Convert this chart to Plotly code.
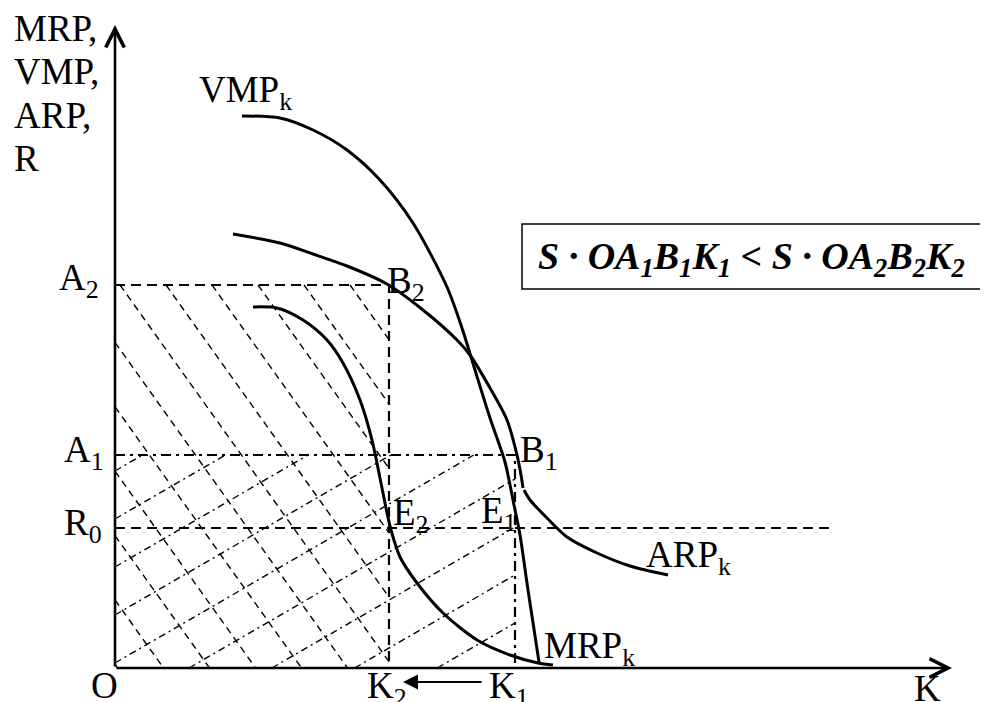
import plotly.graph_objects as go

# key levels on the diagram (origin at O)
K2 = 27.4
K1 = 40.0
A2 = 38.3
A1 = 21.3
R0 = 14.0
R0_END = 72.0
X_END = 83.7
Y_END = 64.3

# curves
vmp_x = [12.7, 16.5, 19.8, 23.2, 26.5, 29.8, 33.2, 34.7, 36.0, 37.5, 39.0, 39.9, 40.5, 41.3, 42.4]
vmp_y = [55.2, 55.0, 53.8, 51.8, 48.8, 44.5, 38.1, 34.0, 29.8, 25.0, 20.6, 16.3, 13.3, 7.8, 0.6]

upper_x = [11.8, 16.5, 19.8, 23.2, 27.2, 30.8, 34.2, 35.5, 37.5, 39.2, 40.2, 40.6, 40.8]
upper_y = [43.4, 42.5, 41.4, 40.2, 38.4, 35.8, 32.8, 31.3, 28.0, 24.8, 21.3, 19.3, 18.0]

arp_x = [40.9, 41.5, 43.2, 45.2, 48.2, 51.5, 55.3]
arp_y = [17.8, 16.8, 15.0, 13.1, 11.5, 10.2, 9.3]

mrp_x = [13.8, 16.2, 18.8, 21.2, 22.8, 24.5, 25.7, 26.5, 27.1, 27.6, 28.5, 30.2, 32.8, 36.2, 39.5, 42.3, 43.8]
mrp_y = [36.1, 36.0, 34.8, 32.8, 30.5, 26.8, 22.8, 19.0, 16.0, 13.8, 11.1, 8.5, 5.5, 2.8, 1.3, 0.5, 0.3]


def clip_line(m, c, w, h):
    # part of y = m*x + c inside [0,w] x [0,h]
    pts = []
    for x in (0, w):
        y = m * x + c
        if 0 <= y <= h:
            pts.append((x, y))
    for y in (0, h):
        x = (y - c) / m
        if 0 <= x <= w:
            pts.append((x, y))
    pts = sorted(set(pts))
    if len(pts) < 2:
        return None
    return pts[0], pts[-1]


def hatch(m, c0, step, w, h):
    xs, ys = [], []
    for k in range(-30, 30):
        seg = clip_line(m, c0 + k * step, w, h)
        if seg is None:
            continue
        (x0, y0), (x1, y1) = seg
        xs += [x0, x1, None]
        ys += [y0, y1, None]
    return xs, ys


fig = go.Figure()

# hatching of OA2B2K2 (dashed) and OA1B1K1 (dash-dot)
hx, hy = hatch(-1.4, A2 + 1.4 * 0.5, 1.4 * 4.6, K2, A2)
fig.add_trace(go.Scatter(x=hx, y=hy, mode="lines",
                         line=dict(color="black", width=1.4, dash="7px,5px")))
hx, hy = hatch(0.58, 5.3, 4.8, K1, A1)
fig.add_trace(go.Scatter(x=hx, y=hy, mode="lines",
                         line=dict(color="black", width=1.4, dash="7px,4px,2px,4px")))

# guide lines
dashed = dict(color="black", width=2.2, dash="10px,6px")
dashdot = dict(color="black", width=2.2, dash="10px,5px,3px,5px")
fig.add_trace(go.Scatter(x=[0, K2, K2], y=[A2, A2, 0], mode="lines", line=dashed))
fig.add_trace(go.Scatter(x=[0, R0_END], y=[R0, R0], mode="lines", line=dashed))
fig.add_trace(go.Scatter(x=[0, K1, K1], y=[A1, A1, 0], mode="lines", line=dashdot))

# curves
solid = dict(color="black", width=3, shape="spline", smoothing=0.8)
for cx, cy in [(vmp_x, vmp_y), (upper_x, upper_y), (arp_x, arp_y), (mrp_x, mrp_y)]:
    fig.add_trace(go.Scatter(x=cx, y=cy, mode="lines", line=solid))

# axes with open arrow heads
for tip in [(0, Y_END), (X_END, 0)]:
    fig.add_annotation(x=tip[0], y=tip[1], ax=0, ay=0, xref="x", yref="y",
                       axref="x", ayref="y", text="", showarrow=True,
                       arrowhead=5, arrowwidth=2.6, arrowsize=1.4, arrowcolor="black")

# K1 -> K2 shift
fig.add_annotation(x=K2 + 1.4, y=-1.4, ax=K1 - 3.2, ay=-1.4, xref="x", yref="y",
                   axref="x", ayref="y", text="", showarrow=True,
                   arrowhead=2, arrowwidth=2, arrowsize=1.5, arrowcolor="black")

serif = "Liberation Serif, Times New Roman, serif"
font = dict(family=serif, size=37, color="black")
labels = [
    ("MRP,", -10.3, 63.95),
    ("VMP,", -10.3, 59.65),
    ("ARP,", -10.3, 55.25),
    ("R", -10.3, 50.95),
    ("VMP<sub>k</sub>", 8.2, 57.6),
    ("B<sub>2</sub>", K2 - 0.4, A2 + 0.2),
    ("B<sub>1</sub>", K1 + 0.3, A1 + 0.3),
    ("E<sub>2</sub>", K2 + 0.2, R0 + 1.3),
    ("E<sub>1</sub>", K1 - 3.6, R0 + 1.5),
    ("ARP<sub>k</sub>", 52.9, 11.1),
    ("MRP<sub>k</sub>", 42.7, 2.0),
    ("A<sub>2</sub>", -5.8, A2 + 0.5),
    ("A<sub>1</sub>", -5.3, A1 + 0.3),
    ("R<sub>0</sub>", -5.3, R0 + 0.3),
    ("O", -2.6, -1.7),
    ("K<sub>2</sub>", K2 - 2.4, -2.0),
    ("K<sub>1</sub>", K1 - 2.8, -2.0),
    ("K", 79.7, -2.0),
]
for txt, lx, ly in labels:
    fig.add_annotation(x=lx, y=ly, xref="x", yref="y", text=txt, showarrow=False,
                       xanchor="left", yanchor="middle", font=font)

# inequality box
fig.add_shape(type="rect", x0=40.7, x1=87.2, y0=37.9, y1=44.4, xref="x", yref="y",
              line=dict(color="black", width=1.5), fillcolor="white")
fig.add_annotation(x=63.6, y=40.9, xref="x", yref="y", showarrow=False,
                   text="S · OA<sub>1</sub>B<sub>1</sub>K<sub>1</sub> &lt; "
                        "S · OA<sub>2</sub>B<sub>2</sub>K<sub>2</sub>",
                   font=dict(family="Liberation Serif", size=38, color="black",
                             weight="bold", style="italic"))

# the page body adds an 8px offset, so the ranges are shifted to compensate
fig.update_layout(
    width=988,
    height=702,
    margin=dict(l=0, r=0, t=0, b=0),
    paper_bgcolor="white",
    plot_bgcolor="white",
    showlegend=False,
    xaxis=dict(range=[-10.7, 88.1], visible=False, fixedrange=True),
    yaxis=dict(range=[-4.2, 66.0], visible=False, fixedrange=True),
)

fig.write_html("out.html")
